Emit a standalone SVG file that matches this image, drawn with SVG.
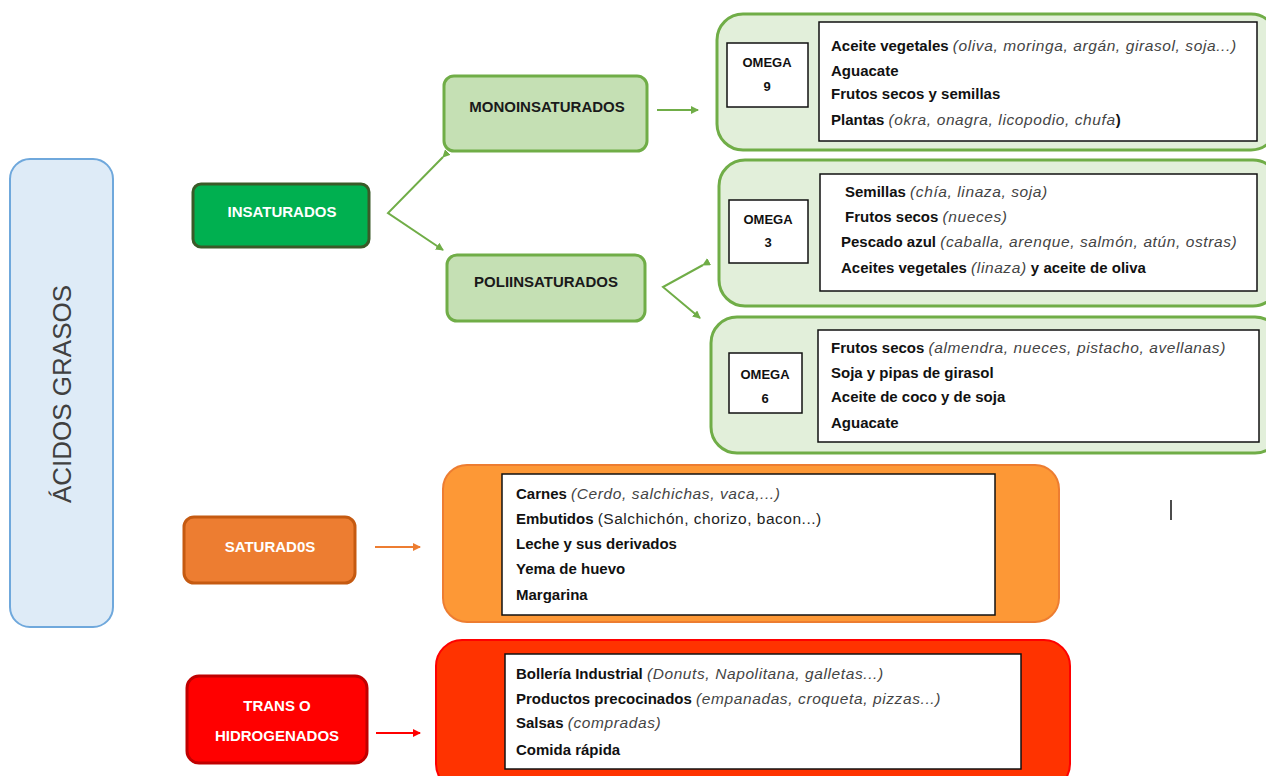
<svg xmlns="http://www.w3.org/2000/svg" width="1266" height="776" viewBox="0 0 1266 776">
<style>
text{font-family:"Liberation Sans",Arial,sans-serif}
.t{font-size:15px;font-weight:bold;fill:#111}
.i{font-weight:normal;font-style:italic;fill:#444;font-size:15.5px;letter-spacing:0.6px}
.n{font-weight:normal;font-size:15.5px;letter-spacing:0.5px;fill:#222}
.h{font-size:15px;font-weight:bold;text-anchor:middle}
.om{font-size:13px;font-weight:bold;text-anchor:middle;fill:#111}
.wb{fill:#fff;stroke:#111;stroke-width:1.5}
.gOut{fill:#e2efda;stroke:#70ad47;stroke-width:3}
.gl{stroke:#70ad47;stroke-width:2;fill:none}
</style>
<defs>
<marker id="ag" markerWidth="8" markerHeight="8" refX="7" refY="4" orient="auto" markerUnits="userSpaceOnUse"><path d="M0,0 L8,4 L0,8 z" fill="#70ad47"/></marker>
<marker id="ao" markerWidth="8" markerHeight="8" refX="7" refY="4" orient="auto" markerUnits="userSpaceOnUse"><path d="M0,0 L8,4 L0,8 z" fill="#ed7d31"/></marker>
<marker id="ar" markerWidth="8" markerHeight="8" refX="7" refY="4" orient="auto" markerUnits="userSpaceOnUse"><path d="M0,0 L8,4 L0,8 z" fill="#ff0000"/></marker>
</defs>

<g id="root">
<rect x="10" y="159" width="103" height="468" rx="20" fill="#deebf7" stroke="#6fa8dc" stroke-width="2"/>
<text transform="translate(71,394) rotate(-90)" text-anchor="middle" font-size="26" fill="#404040">ÁCIDOS GRASOS</text>
</g>

<g id="insaturados">
<rect x="193" y="184" width="176" height="63" rx="8" fill="#00b050" stroke="#3a5a28" stroke-width="3"/>
<text class="h" x="282" y="217" fill="#fff">INSATURADOS</text>
</g>

<g id="mono">
<rect x="444" y="76" width="203" height="75" rx="10" fill="#c5e0b4" stroke="#70ad47" stroke-width="3"/>
<text class="h" x="547" y="112" fill="#1a1a1a">MONOINSATURADOS</text>
</g>

<g id="poli">
<rect x="447" y="255" width="198" height="66" rx="10" fill="#c5e0b4" stroke="#70ad47" stroke-width="3"/>
<text class="h" x="546" y="287" fill="#1a1a1a">POLIINSATURADOS</text>
</g>

<g id="omega9">
<rect class="gOut" x="717" y="14" width="560" height="136" rx="26"/>
<rect class="wb" x="727" y="43" width="81" height="64"/>
<text class="om" x="767" y="67">OMEGA</text>
<text class="om" x="767" y="91">9</text>
<rect class="wb" x="819" y="22" width="438" height="119"/>
<text class="t" x="831" y="51">Aceite vegetales <tspan class="i">(oliva, moringa, argán, girasol, soja...)</tspan></text>
<text class="t" x="831" y="76">Aguacate</text>
<text class="t" x="831" y="99">Frutos secos y semillas</text>
<text class="t" x="831" y="125">Plantas <tspan class="i">(okra, onagra, licopodio, chufa</tspan>)</text>
</g>

<g id="omega3">
<rect class="gOut" x="719" y="160" width="560" height="146" rx="26"/>
<rect class="wb" x="729" y="200" width="79" height="63"/>
<text class="om" x="768" y="224">OMEGA</text>
<text class="om" x="768" y="247">3</text>
<rect class="wb" x="820" y="174" width="437" height="117"/>
<text class="t" x="845" y="197">Semillas <tspan class="i">(chía, linaza, soja)</tspan></text>
<text class="t" x="845" y="222">Frutos secos <tspan class="i">(nueces)</tspan></text>
<text class="t" x="841" y="247">Pescado azul <tspan class="i">(caballa, arenque, salmón, atún, ostras)</tspan></text>
<text class="t" x="841" y="273">Aceites vegetales <tspan class="i">(linaza)</tspan> y aceite de oliva</text>
</g>

<g id="omega6">
<rect class="gOut" x="711" y="317" width="570" height="136" rx="26"/>
<rect class="wb" x="729" y="353" width="73" height="60"/>
<text class="om" x="765" y="379">OMEGA</text>
<text class="om" x="765" y="403">6</text>
<rect class="wb" x="818" y="330" width="441" height="112"/>
<text class="t" x="831" y="353">Frutos secos <tspan class="i">(almendra, nueces, pistacho, avellanas)</tspan></text>
<text class="t" x="831" y="378">Soja y pipas de girasol</text>
<text class="t" x="831" y="402">Aceite de coco y de soja</text>
<text class="t" x="831" y="428">Aguacate</text>
</g>

<g id="saturados">
<rect x="184" y="517" width="171" height="66" rx="10" fill="#ed7d31" stroke="#c55a11" stroke-width="3"/>
<text class="h" x="270" y="552" fill="#fff">SATURAD0S</text>
</g>

<g id="saturados-list">
<rect x="443" y="465" width="616" height="157" rx="24" fill="#fd9836" stroke="#ed7d31" stroke-width="2"/>
<rect class="wb" x="502" y="474" width="493" height="141"/>
<text class="t" x="516" y="499">Carnes <tspan class="i">(Cerdo, salchichas, vaca,...)</tspan></text>
<text class="t" x="516" y="524">Embutidos <tspan class="n">(Salchichón, chorizo, bacon...)</tspan></text>
<text class="t" x="516" y="549">Leche y sus derivados</text>
<text class="t" x="516" y="574">Yema de huevo</text>
<text class="t" x="516" y="600">Margarina</text>
</g>

<g id="trans">
<rect x="187" y="676" width="180" height="87" rx="12" fill="#ff0000" stroke="#c00000" stroke-width="3"/>
<text class="h" x="277" y="711" fill="#fff">TRANS O</text>
<text class="h" x="277" y="741" fill="#fff">HIDROGENADOS</text>
</g>

<g id="trans-list">
<rect x="436" y="640" width="634" height="150" rx="26" fill="#ff3300" stroke="#ff0000" stroke-width="2"/>
<rect class="wb" x="505" y="654" width="516" height="115"/>
<text class="t" x="516" y="679">Bollería Industrial <tspan class="i">(Donuts, Napolitana, galletas...)</tspan></text>
<text class="t" x="516" y="704">Productos precocinados <tspan class="i">(empanadas, croqueta, pizzas...)</tspan></text>
<text class="t" x="516" y="728">Salsas <tspan class="i">(compradas)</tspan></text>
<text class="t" x="516" y="755">Comida rápida</text>
</g>

<g id="connectors">
<path class="gl" d="M443,157 L388,213 L443,250" marker-start="url(#ag)" marker-end="url(#ag)"/>
<line class="gl" x1="657" y1="110" x2="698" y2="110" marker-end="url(#ag)"/>
<path class="gl" d="M703,265 L663,287 L700,318" marker-start="url(#ag)" marker-end="url(#ag)"/>
<line x1="375" y1="547" x2="420" y2="547" stroke="#ed7d31" stroke-width="2" marker-end="url(#ao)"/>
<line x1="376" y1="733" x2="420" y2="733" stroke="#ff0000" stroke-width="2" marker-end="url(#ar)"/>
</g>
<line x1="1171" y1="500" x2="1171" y2="520" stroke="#111" stroke-width="1.5"/>
</svg>
